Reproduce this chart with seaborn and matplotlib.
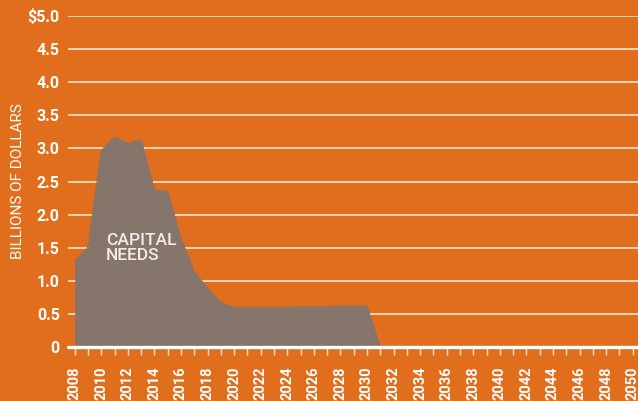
import matplotlib
matplotlib.use("Agg")
import matplotlib.pyplot as plt
import seaborn as sns
import pandas as pd

# Annual capital needs, billions of dollars
years = list(range(2008, 2051))
capital_needs = [1.30, 1.51, 2.97, 3.17, 3.08, 3.13, 2.37, 2.35, 1.64, 1.14,
                 0.89, 0.67, 0.60, 0.60, 0.60, 0.60, 0.60, 0.61, 0.61, 0.61,
                 0.62, 0.62, 0.62, 0.0] + [0.0] * 19
y_ticks = [0, 0.5, 1.0, 1.5, 2.0, 2.5, 3.0, 3.5, 4.0, 4.5, 5.0]
y_tick_labels = ["0", "0.5", "1.0", "1.5", "2.0", "2.5", "3.0", "3.5", "4.0", "4.5", "$5.0"]
x_tick_years = list(range(2008, 2051, 2))

# Data ends at 2031 (drops to zero); later years are empty
last_year = 2031
df = pd.DataFrame({"year": years, "need": capital_needs})
df_area = df[df["year"] <= last_year]

BG = "#E06E1C"
FILL = "#86756B"
GRID = "#F6D3B6"

sns.set_theme(style="white")
plt.rcParams["font.family"] = ["Roboto", "DejaVu Sans"]
plt.rcParams["text.color"] = "white"

fig = plt.figure(figsize=(6.38, 4.01), dpi=100, facecolor=BG)
ax = fig.add_axes([68 / 638, 54 / 401, 1 - 68 / 638, (347 - 16) / 401])
ax.set_facecolor(BG)

# Horizontal grid behind the area
for yv in y_ticks[1:]:
    ax.axhline(yv, color=GRID, lw=1.4, zorder=0)

ax.fill_between(df_area["year"], 0, df_area["need"], color=FILL, lw=0, zorder=2)
sns.lineplot(data=df_area, x="year", y="need", ax=ax, color=FILL, lw=0.8, zorder=3)

# Baseline
ax.axhline(0, color="white", lw=2.4, zorder=4, clip_on=False)

ax.set_xlim(2007.5, 2050.4)
ax.set_ylim(0, 5.0)
for s in ax.spines.values():
    s.set_visible(False)

ax.set_yticks(y_ticks)
ax.set_yticklabels(y_tick_labels, fontsize=11.5, fontweight="bold", color="white")
ax.tick_params(axis="y", length=0, pad=6)

ax.set_xticks(years, minor=True)
ax.set_xticks(x_tick_years)
ax.set_xticklabels([str(y) for y in x_tick_years], rotation=90, fontsize=10.5,
                   fontweight="bold", color="white", va="top")
ax.tick_params(axis="x", which="both", direction="out", length=6, width=1,
               color="#F8E0CC", pad=8, bottom=True)
ax.tick_params(axis="x", which="minor", length=6)

ax.set_xlabel("")
ax.set_ylabel("BILLIONS OF DOLLARS", fontsize=11, color="white")
ax.yaxis.label.set_verticalalignment("center")
ax.yaxis.set_label_coords((18 - 68) / 570, 0.5)

ax.text(2010.35, 1.50, "CAPITAL\nNEEDS", fontsize=12.5, color="#F1ECE8",
        fontweight="medium", linespacing=1.0, va="center", ha="left", zorder=5)

fig.savefig("out.png", dpi=100, facecolor=BG)
